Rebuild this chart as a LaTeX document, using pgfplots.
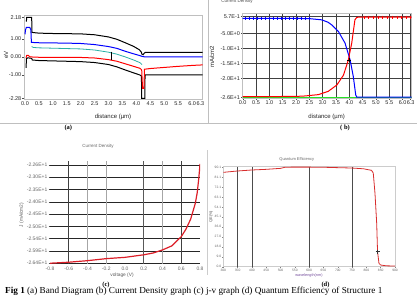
\documentclass[border=0pt]{standalone}
\usepackage{fontspec}
\setmainfont{Liberation Sans}
\newfontfamily\tnr{Liberation Serif}
\usepackage{pgfplots}
\pgfplotsset{compat=1.18}

\definecolor{bandteal}{RGB}{40,175,165}
\definecolor{qered}{RGB}{215,45,45}
\definecolor{jvred}{RGB}{220,30,40}
\definecolor{limegreen}{RGB}{40,225,40}
\definecolor{wlviolet}{RGB}{115,75,155}

\newcommand{\fs}[1]{\fontsize{#1}{#1}\selectfont}

\pgfplotsset{
  panel/.style={
    scale only axis, anchor=south west,
    /pgf/number format/assume math mode=true,
    axis line style={black!25, line width=0.5pt},
    tick align=outside, major tick length=1.5pt,
    tick style={black!70, line width=0.4pt},
    ticklabel style={font=\fs{5.5}, text=black!85, inner sep=1pt},
  },
}

\begin{document}
\begin{tikzpicture}
\useasboundingbox (0pt,0pt) rectangle (417pt,295pt);

% panel frames
\draw[black!25, line width=0.5pt] (0pt,172pt) -- (417pt,172pt);
\draw[black!25, line width=0.5pt] (208.3pt,295pt) -- (208.3pt,172pt);
\draw[black!20, line width=0.5pt] (207pt,145pt) -- (207pt,20pt);

% ---------------- (a) band diagram ----------------
\begin{axis}[panel, at={(24pt,196pt)}, width=178.7pt, height=84pt,
  xmin=-0.036, xmax=6.38, ymin=-2.32, ymax=2.31,
  xtick={0,0.5,1,1.5,2,2.5,3,3.5,4,4.5,5,5.5,6,6.3},
  xticklabels={0.0,0.5,1.0,1.5,2.0,2.5,3.0,3.5,4.0,4.5,5.0,5.5,6.0,6.3},
  ytick={-2.28,-1,0,1,2.18},
  yticklabels={-2.28,-1.00,0.00,1.00,2.18},
  xtick pos=bottom, ytick pos=left]
% conduction band
\addplot[black, line width=1pt] coordinates {
 (0.05,1.95)(0.06,2.18)(0.24,2.18)(0.25,1.35)(0.5,1.31)(1.0,1.29)(1.5,1.28)
 (2.0,1.27)(2.5,1.22)(3.0,1.10)(3.3,0.97)(3.6,0.78)(3.9,0.58)(4.1,0.40)
 (4.17,0.28)(4.2,0.15)(4.24,0.12)(4.28,0.20)(4.32,0.25)(6.38,0.25)};
% valence band
\addplot[black, line width=1pt] coordinates {
 (0.04,-0.6)(0.05,-0.1)(0.1,-0.05)(0.24,-0.08)(0.26,-0.17)(0.5,-0.2)
 (1.0,-0.22)(1.5,-0.24)(2.0,-0.26)(2.5,-0.31)(3.0,-0.42)(3.3,-0.55)
 (3.6,-0.72)(3.9,-0.88)(4.13,-1.0)(4.18,-1.05)(4.19,-2.28)(4.30,-2.28)
 (4.31,-0.99)(6.38,-0.99)};
% electron quasi-Fermi level
\addplot[blue, line width=1pt] coordinates {
 (0,1.25)(0.02,1.5)(0.05,1.63)(0.17,1.63)(0.21,1.5)(0.23,0.80)(0.5,0.78)
 (1.0,0.77)(1.5,0.76)(2.0,0.74)(2.5,0.68)(3.0,0.57)(3.3,0.47)(3.6,0.31)
 (3.9,0.17)(4.13,0.07)(4.2,0.03)(4.3,0.0)(6.38,0.0)};
% intrinsic level
\addplot[bandteal, line width=0.8pt] coordinates {
 (0.24,0.57)(0.3,0.52)(0.5,0.5)(1.0,0.48)(1.5,0.46)(2.0,0.44)(2.5,0.38)
 (3.0,0.26)(3.3,0.15)(3.6,0.0)(3.9,-0.17)(4.13,-0.32)(4.2,-0.42)};
% hole quasi-Fermi level
\addplot[red, line width=1pt] coordinates {
 (0.04,-0.05)(0.06,0.08)(0.12,0.08)(0.18,0.0)(0.5,-0.02)(1.0,-0.02)
 (1.5,-0.02)(2.0,-0.03)(2.5,-0.06)(3.0,-0.15)(3.3,-0.24)(3.6,-0.38)
 (3.9,-0.52)(4.13,-0.63)(4.19,-0.72)(4.22,-1.73)(4.27,-1.73)(4.29,-0.68)
 (4.5,-0.64)(5.0,-0.58)(5.5,-0.52)(6.0,-0.47)(6.38,-0.44)};
% cursor
\addplot[black, line width=0.5pt] coordinates {(3.11,0.29)(3.11,-0.17)};
\end{axis}
\node[rotate=90, font=\fs{6}, text=black!85] at (6pt,240pt) {eV};
\node[font=\fs{6}, text=black!85] at (113pt,178.5pt) {distance (µm)};
\node[font=\tnr\bfseries\fs{6.5}] at (68.3pt,166.7pt) {(a)};

% ---------------- (b) current density ----------------
\begin{axis}[panel, at={(242.7pt,196.7pt)}, width=169pt, height=85pt,
  xmin=0, xmax=6.34, ymin=-26.73, ymax=1.68,
  xtick={0,0.5,1,1.5,2,2.5,3,3.5,4,4.5,5,5.5,6,6.3},
  xticklabels={0.0,0.5,1.0,1.5,2.0,2.5,3.0,3.5,4.0,4.5,5.0,5.5,6.0,6.3},
  ytick={-26.4,-20,-15,-10,-5,0.57},
  yticklabels={-2.6E+1,-2.0E+1,-1.5E+1,-1.0E+1,-5.0E+0,5.7E-1},
  xtick pos=bottom, ytick pos=left,
  grid=major, major grid style={black!75, line width=0.5pt}]
\addplot[limegreen, line width=1.1pt] coordinates {(0,-26.4)(6.34,-26.4)};
\addplot[blue, line width=1pt] coordinates {
 (0,0.0)(0.5,0.0)(1.0,0.0)(1.5,0.0)(2.0,-0.02)(2.5,-0.1)(2.96,-0.5)
 (3.2,-1.3)(3.34,-2.2)(3.59,-4.4)(3.84,-8.3)(4.03,-13.9)(4.15,-19.5)
 (4.24,-25.6)(4.28,-26.35)(6.34,-26.35)};
\addplot[blue, only marks, mark=|, mark size=1.5pt, mark options={line width=0.4pt}]
 coordinates {(0.1,0)(0.25,0)(0.4,0)(0.55,0)(0.7,0)(0.85,0)(1.0,0)(1.15,0)
 (1.3,0)(1.45,0)(1.6,0)(1.75,0)(1.9,0)(2.05,0)(2.2,0)(2.35,0)(2.5,0)};
\addplot[red, line width=1pt] coordinates {
 (0,-26.15)(1.0,-26.15)(2.0,-26.1)(2.34,-25.95)(2.84,-25.5)(3.21,-24.4)
 (3.53,-22.3)(3.78,-19.0)(3.96,-14.0)(4.09,-8.3)(4.21,-0.5)(4.28,0.35)
 (4.5,0.4)(6.34,0.4)};
\addplot[red, only marks, mark=|, mark size=1.5pt, mark options={line width=0.4pt}]
 coordinates {(4.55,0.4)(4.72,0.4)(4.9,0.4)(5.08,0.4)(5.25,0.4)(5.42,0.4)
 (5.6,0.4)(5.78,0.4)(5.95,0.4)(6.12,0.4)(6.28,0.4)};
\addplot[black, only marks, mark=+, mark size=2pt, mark options={line width=0.4pt}]
 coordinates {(4.0,-14.0)};
\end{axis}
\node[rotate=90, font=\fs{6}, text=black!85] at (212pt,238.3pt) {mA/cm2};
\node[font=\fs{6}, text=black!85] at (326.7pt,178.5pt) {distance (µm)};
\node[font=\fs{4.5}, text=black!70, anchor=base] at (237pt,292.3pt) {Current Density};
\node[font=\tnr\bfseries\fs{6.5}] at (345pt,167.3pt) {( b)};

% ---------------- (c) J-V ----------------
\begin{axis}[panel, at={(50pt,31pt)}, width=150pt, height=103.4pt,
  xmin=-0.8, xmax=0.8, ymin=-26.43, ymax=-22.39,
  axis line style={draw=none},
  xtick={-0.8,-0.6,-0.4,-0.2,0,0.2,0.4,0.6,0.8},
  xticklabels={-0.8,-0.6,-0.4,-0.2,0.0,0.2,0.4,0.6,0.8},
  ytick={-26.4,-25.92,-25.44,-24.96,-24.48,-24.0,-23.52,-23.04,-22.56},
  yticklabels={-2.64E+1,-2.59E+1,-2.54E+1,-2.50E+1,-2.45E+1,-2.40E+1,-2.35E+1,-2.30E+1,-2.26E+1},
  ticklabel style={font=\fs{5}, text=black!60},
  xtick style={draw=none}, ytick pos=left,
  ymajorgrids, major grid style={black!85, line width=0.5pt}]
\draw[black!75, line width=0.6pt] (-0.6,-26.43) -- (-0.6,-22.39);
\draw[black!35, line width=0.8pt] (-0.4,-26.43) -- (-0.4,-22.39);
\draw[black!35, line width=0.8pt] (-0.2,-26.43) -- (-0.2,-22.39);
\draw[black!65, line width=0.6pt] (0.2,-26.43) -- (0.2,-22.39);
\draw[black!35, line width=0.8pt] (0.4,-26.43) -- (0.4,-22.39);
\draw[black!75, line width=0.6pt] (0.6,-26.43) -- (0.6,-22.39);
\addplot[jvred, line width=1.2pt] coordinates {
 (-0.8,-26.4)(-0.6,-26.36)(-0.4,-26.30)(-0.2,-26.22)(0,-26.17)(0.2,-26.07)
 (0.3,-26.0)(0.4,-25.88)(0.5,-25.72)(0.6,-25.36)(0.65,-25.07)(0.7,-24.68)
 (0.75,-24.06)(0.77,-23.65)(0.785,-23.15)(0.795,-22.75)(0.8,-22.52)};
\end{axis}
\node[font=\fs{4.5}, text=black!60] at (98pt,149pt) {Current Density};
\node[rotate=90, font=\fs{4.8}, text=black!65] at (21.7pt,80pt) {J (mA/cm2)};
\node[font=\fs{4.8}, text=black!65] at (122pt,19.3pt) {voltage (V)};
\node[font=\tnr\bfseries\fs{6.5}] at (106pt,10pt) {(c)};

% ---------------- (d) quantum efficiency ----------------
\begin{axis}[panel, at={(223.3pt,28.3pt)}, width=171.7pt, height=100pt,
  xmin=300, xmax=900, ymin=0, ymax=90.4,
  axis line style={black!20},
  xtick={300,350,400,450,500,550,600,650,700,750,800,850,900},
  ytick={0,9.01,18.02,27.03,36.04,45.05,54.06,63.07,72.08,81.09,90.1},
  yticklabels={0.0,9.0,18.0,27.0,36.0,45.1,54.1,63.1,72.1,81.1,90.1},
  ticklabel style={font=\fs{3.3}, text=black!60},
  major tick length=1pt, tick style={black!50},
  xtick pos=bottom, ytick pos=left]
\draw[black!70, line width=0.6pt] (350,0) -- (350,90.4);
\draw[black!70, line width=0.6pt] (400,0) -- (400,90.4);
\draw[black!70, line width=0.6pt] (600,0) -- (600,90.4);
\draw[black!70, line width=0.6pt] (750,0) -- (750,90.4);
\addplot[qered, line width=0.8pt] coordinates {
 (300,85.3)(349,86.5)(399,87.4)(449,88.0)(500,88.9)(516,89.9)(539,90.0)
 (600,90.0)(650,89.9)(690,89.6)(750,89.2)(790,88.5)(818,87.1)(824,84.7)
 (830,66.5)(836,39.3)(839,13.6)(844,3.0)(850,1.5)(870,0.8)(900,0.6)};
\addplot[black!80, only marks, mark=+, mark size=2pt, mark options={line width=0.4pt}]
 coordinates {(839,13.6)};
\end{axis}
\node[font=\fs{4}, text=black!60] at (296.7pt,135.7pt) {Quantum Efficiency};
\node[rotate=90, font=\fs{4}, text=black!65] at (211pt,78.3pt) {QE(\%)};
\node[font=\fs{3.8}, text=wlviolet] at (309pt,19pt) {wavelength(nm)};
\node[font=\tnr\bfseries\fs{6.5}] at (325.5pt,10pt) {(d)};

% figure caption
\node[anchor=base west, inner sep=0pt, font=\tnr\fs{9.2}] at (5pt,1.2pt)
 {\textbf{Fig 1} (a) Band Diagram (b) Current Density graph (c) j-v graph (d) Quantum Efficiency of Structure 1};
\end{tikzpicture}
\end{document}
